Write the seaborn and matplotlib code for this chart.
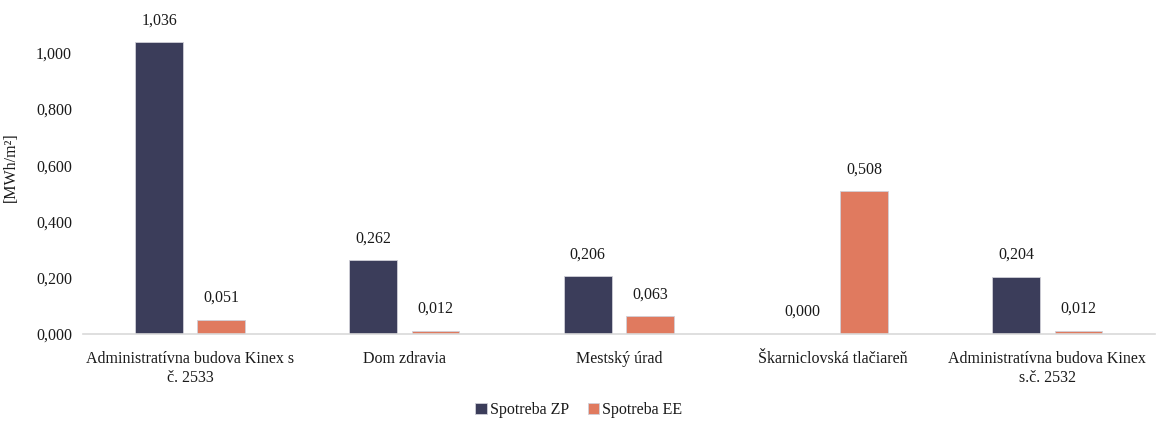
import numpy as np
import pandas as pd
import matplotlib.pyplot as plt
import seaborn as sns

sns.set_theme(style="white")
plt.rcParams['font.family'] = ['Liberation Serif', 'DejaVu Serif']

# data
buildings = ["Administratívna budova Kinex s\nč. 2533", "Dom zdravia", "Mestský úrad",
             "Škarniclovská tlačiareň", "Administratívna budova Kinex\ns.č. 2532"]
spotreba_zp = [1.036, 0.262, 0.206, 0.000, 0.204]
spotreba_ee = [0.051, 0.012, 0.063, 0.508, 0.012]
series = ["Spotreba ZP", "Spotreba EE"]
colors = ["#3b3d5a", "#e07a5f"]

df = pd.DataFrame({"budova": buildings * 2,
                   "hodnota": spotreba_zp + spotreba_ee,
                   "séria": [series[0]] * len(buildings) + [series[1]] * len(buildings)})

fs = 11.5
txt = "#1a1a1a"

fig = plt.figure(figsize=(11.58, 4.23), dpi=100)
ax = fig.add_axes([0.0717, 0.2104, 0.9253, 0.7896])

sns.barplot(data=df, x="budova", y="hodnota", hue="séria", palette=colors, saturation=1,
            width=0.58, gap=0.23, ax=ax, errorbar=None, edgecolor="#d0d0d8", linewidth=0.6)

for cont in ax.containers:
    ax.bar_label(cont, labels=[f"{v:.3f}".replace(".", ",") for v in cont.datavalues],
                 padding=10, fontsize=fs, color=txt)

ax.set_ylim(0, 1.187)
ax.set_xlim(-0.5, 4.5)
ticks = np.arange(0, 1.01, 0.2)
ax.set_yticks(ticks)
ax.set_yticklabels([f"{t:.3f}".replace(".", ",") for t in ticks], fontsize=fs, color=txt)
ax.set_xticks(range(len(buildings)))
ax.set_xticklabels(buildings, fontsize=fs, color=txt, linespacing=1.25)
ax.tick_params(axis="x", length=0, pad=12)
ax.tick_params(axis="y", length=0, pad=8)
ax.set_xlabel("")
ax.set_ylabel("[MWh/m²]", fontsize=fs, color=txt, labelpad=12)

for s in ["top", "right", "left"]:
    ax.spines[s].set_visible(False)
ax.spines["bottom"].set_color("#d9d9d9")
ax.spines["bottom"].set_linewidth(1.2)

# legend centred on the whole figure, below the category labels
handles, labels = ax.get_legend_handles_labels()
ax.get_legend().remove()
leg = fig.legend(handles, labels, loc="center", bbox_to_anchor=(0.5, 0.031), ncol=2, frameon=False,
                 prop={"family": "Liberation Serif", "size": fs},
                 handlelength=0.7, handleheight=0.7, handletextpad=0.2, columnspacing=1.2)
for t in leg.get_texts():
    t.set_color(txt)

fig.savefig("out.png", dpi=100)
